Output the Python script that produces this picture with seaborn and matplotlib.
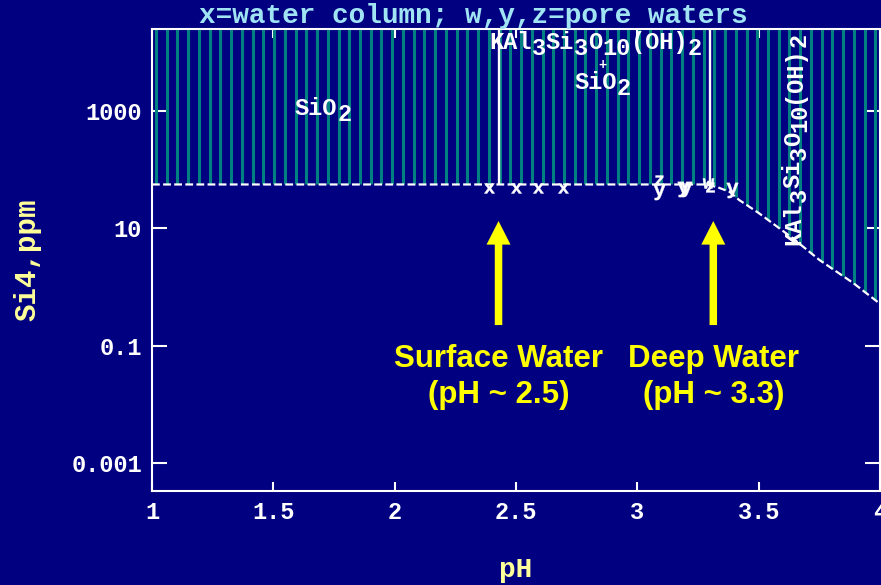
import numpy as np
import matplotlib
matplotlib.use("Agg")
import matplotlib.pyplot as plt
import seaborn as sns

# ---------------- data ----------------
boundary_ph = [1.00, 3.28, 3.33, 3.38, 3.42, 3.50, 3.64, 3.75, 3.89, 4.00]
boundary_si = [55.6, 55.6, 50.0, 41.7, 30.2, 18.2, 6.8, 2.9, 1.17, 0.52]
phase_line_ph = [2.43, 3.30]

water_ph = [2.39, 2.50, 2.59, 2.695]
water_si = [48, 48, 48, 48]
pore_y_ph = [3.09, 3.19, 3.20, 3.39]
pore_y_si = [41, 47, 47, 45]
pore_z_ph = [3.09, 3.30]
pore_z_si = [66, 50]
pore_w_ph = [3.29]
pore_w_si = [60]

x_ticks = [1, 1.5, 2, 2.5, 3, 3.5, 4]
x_tick_labels = ["1", "1.5", "2", "2.5", "3", "3.5", "4"]
y_ticks = [0.001, 0.1, 10, 1000]
y_tick_labels = ["0.001", "0.1", "10", "1000"]

arrow_ph = [2.428, 3.313]
arrow_tip_si = 13.3
arrow_tail_si = 0.226
arrow_labels = ["Surface Water\n(pH ~ 2.5)", "Deep Water\n(pH ~ 3.3)"]
arrow_label_si = 10 ** -1.53

title = "x=water column; w,y,z=pore waters"
x_label = "pH"
y_label = "Si4,ppm"

sio2_runs = [("SiO", 0), ("2", 1)]
kaol_runs = [("KAl", 0), ("3", 1), ("Si", 0), ("3", 1), ("O", 0),
             ("10", 1), ("(OH)", 0), ("2", 1)]

# ---------------- style ----------------
NAVY = "#000080"
TEAL = "#008080"
WHITE = "white"
PALE_YELLOW = "#ffff99"
TITLE_COL = "#a0e4f4"
YELLOW = "#ffff00"

sns.set_theme(style="white")
plt.rcParams["font.family"] = ["Liberation Mono", "DejaVu Sans Mono"]
plt.rcParams["font.weight"] = "bold"
plt.rcParams["mathtext.fontset"] = "custom"
for k in ["rm", "it", "bf", "tt", "sf"]:
    plt.rcParams[f"mathtext.{k}"] = "Liberation Mono:bold"

fig = plt.figure(figsize=(8.81, 5.85), dpi=100, facecolor=NAVY)
ax = fig.add_axes([152 / 881, 94 / 585, 728 / 881, 462 / 585])
ax.set_facecolor(NAVY)
ax.set_yscale("log")
ax.set_xlim(1, 4)
ax.set_ylim(10 ** -3.468, 10 ** 4.389)
top = ax.get_ylim()[1]

log_b = np.log10(boundary_si)

# hatch of vertical teal lines above the solubility boundary
hatch_x = np.linspace(1.0165, 3.981, 68)
hatch_bottom = 10 ** np.interp(hatch_x, boundary_ph, log_b)
ax.vlines(hatch_x, hatch_bottom, top, colors=TEAL, linewidth=2.2, zorder=1)

# phase boundaries (vertical white lines)
pl_bottom = 10 ** np.interp(phase_line_ph, boundary_ph, log_b)
ax.vlines(phase_line_ph, pl_bottom, top, colors=WHITE, linewidth=1.7, zorder=2)

# solubility boundary
sns.lineplot(x=boundary_ph, y=boundary_si, color=WHITE, linewidth=1.6,
             linestyle=(0, (3.5, 1.5)), ax=ax, zorder=3, sort=False)

# sample letters
for ph, si, letter, s in [(water_ph, water_si, "x", 55),
                          (pore_y_ph, pore_y_si, "y", 120),
                          (pore_z_ph, pore_z_si, "z", 50),
                          (pore_w_ph, pore_w_si, "w", 65)]:
    sns.scatterplot(x=ph, y=si, marker=f"$\\mathtt{{{letter}}}$", s=s,
                    color=WHITE, edgecolor=WHITE, linewidth=0.3, ax=ax,
                    zorder=4, legend=False)


def chem_label(x, y, runs, size=17, rotation=0, drop=4.3):
    adv = 0.6 * size
    i = 0
    for txt, sub in runs:
        dy = -drop if sub else 0
        off = (i * adv, dy) if rotation == 0 else (-dy, i * adv)
        ax.annotate(txt, xy=(x, y), xycoords="data", xytext=off,
                    textcoords="offset points", fontsize=size,
                    fontweight="bold", color=WHITE, ha="left",
                    va="baseline", rotation=rotation,
                    rotation_mode="anchor", zorder=5)
        i += len(txt)


chem_label(1.589, 845, sio2_runs)
chem_label(2.39, 11070, kaol_runs)
ax.text(2.855, 10 ** 3.775, "+", fontsize=10, color=WHITE, ha="center",
        va="center", zorder=5)
chem_label(2.740, 2312, sio2_runs)
chem_label(3.670, 5.2, kaol_runs, rotation=90)

# arrows and annotations
for ph, lab in zip(arrow_ph, arrow_labels):
    ax.annotate("", xy=(ph, arrow_tip_si), xytext=(ph, arrow_tail_si),
                arrowprops=dict(arrowstyle="simple,head_length=17,head_width=17.3,tail_width=5.4",
                                mutation_scale=1, color=YELLOW, shrinkA=0,
                                shrinkB=0, lw=0), zorder=6)
    ax.text(ph, arrow_label_si, lab, ha="center", va="center",
            fontsize=22.5, fontweight="bold", color=YELLOW,
            family=["Liberation Sans", "DejaVu Sans"], linespacing=1.25,
            zorder=6)

# axes
ax.set_xticks(x_ticks)
ax.set_xticklabels(x_tick_labels)
ax.set_yticks(y_ticks)
ax.set_yticklabels(y_tick_labels)
ax.yaxis.set_minor_locator(matplotlib.ticker.NullLocator())
ax.xaxis.set_minor_locator(matplotlib.ticker.NullLocator())
ax.tick_params(axis="both", which="major", direction="in", width=1.5,
               color=WHITE, labelcolor=WHITE, labelsize=17,
               top=True, right=True, bottom=True, left=True)
ax.tick_params(axis="x", length=6.5, pad=7)
ax.tick_params(axis="y", length=10.8, pad=7.2)
for sp in ax.spines.values():
    sp.set_color(WHITE)
    sp.set_linewidth(1.5)
    sp.set_zorder(7)

ax.set_xlabel(x_label, fontsize=20, color=PALE_YELLOW, fontweight="bold")
ax.set_ylabel(y_label, fontsize=21, color=PALE_YELLOW, fontweight="bold")
ax.xaxis.set_label_coords(0.5, -0.142)
ax.yaxis.set_label_coords(-0.1525, 0.5)

fig.text(473 / 881, 1 - 23 / 585, title, ha="center", va="baseline",
         fontsize=20, color=TITLE_COL, fontweight="bold")

fig.savefig("out.png", dpi=100, facecolor=NAVY)
